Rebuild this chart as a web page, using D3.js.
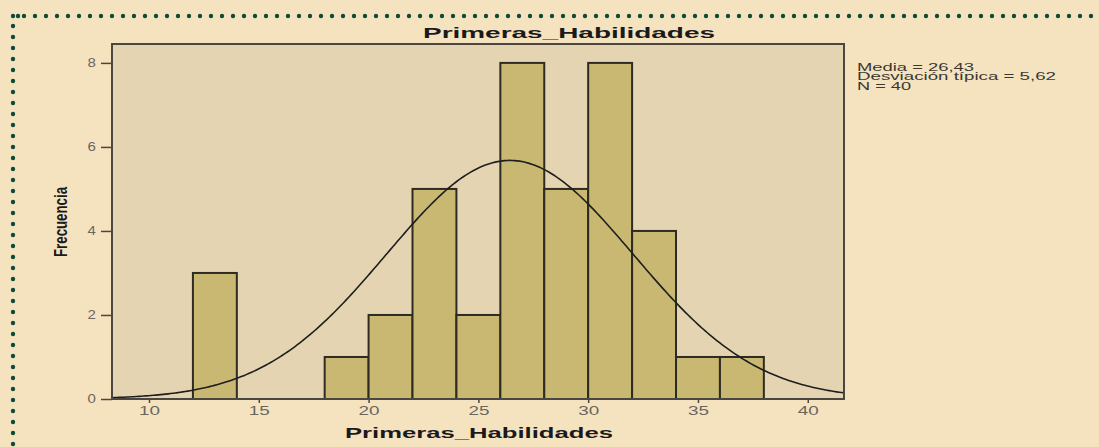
<!DOCTYPE html>
<html>
<head>
<meta charset="utf-8">
<script src="https://cdn.jsdelivr.net/npm/d3@7"></script>
<style>
  body { margin: 0; background: #f5e3c0; }
  svg { display: block; }
</style>
</head>
<body>
<div id="chart"></div>
<script>
// histogram bins (lower edge, upper edge, count)
const binStart = [12, 18, 20, 22, 24, 26, 28, 30, 32, 34, 36];
const binEnd   = [14, 20, 22, 24, 26, 28, 30, 32, 34, 36, 38];
const counts   = [3, 1, 2, 5, 2, 8, 5, 8, 4, 1, 1];

const xTicks = [10, 15, 20, 25, 30, 35, 40];
const yTicks = [0, 2, 4, 6, 8];

const media = 26.43;
const desviacion = 5.62;
const n = 40;
const statLines = ["Media = 26,43", "Desviación típica = 5,62", "N = 40"];

const width = 1099, height = 447;
const plot = { left: 112, right: 844, top: 44, bottom: 399 };

const svg = d3.select("#chart").append("svg")
  .attr("width", width)
  .attr("height", height);

svg.append("rect")
  .attr("width", width).attr("height", height)
  .attr("fill", "#f5e3c0");

// dotted frame
const dotColor = "#0e4b37";
d3.range(13, width + 6, 11).forEach(x => {
  svg.append("circle").attr("cx", x).attr("cy", 16).attr("r", 2.2).attr("fill", dotColor);
});
svg.append("circle").attr("cx", 18).attr("cy", 16).attr("r", 2.2).attr("fill", dotColor);
d3.range(26, height + 6, 11).forEach(y => {
  svg.append("circle").attr("cx", 13).attr("cy", y).attr("r", 2.2).attr("fill", dotColor);
});

const x = d3.scaleLinear().domain([8.315, 41.65]).range([plot.left, plot.right]);
const y = d3.scaleLinear().domain([0, 8.45]).range([plot.bottom, plot.top]);

// plot area
svg.append("rect")
  .attr("x", plot.left).attr("y", plot.top)
  .attr("width", plot.right - plot.left)
  .attr("height", plot.bottom - plot.top)
  .attr("fill", "#e5d4b1");

// bars
svg.append("g")
  .selectAll("rect")
  .data(counts)
  .join("rect")
  .attr("x", (d, i) => x(binStart[i]))
  .attr("y", d => y(d))
  .attr("width", (d, i) => x(binEnd[i]) - x(binStart[i]))
  .attr("height", d => y(0) - y(d))
  .attr("fill", "#c9b872")
  .attr("stroke", "#2e2b22")
  .attr("stroke-width", 2);

// normal curve from the reported mean / sd
const binW = 2;
const pts = d3.range(0, 301).map(k => {
  const v = 8.315 + (41.65 - 8.315) * k / 300;
  const z = (v - media) / desviacion;
  return [v, n * binW * Math.exp(-0.5 * z * z) / (desviacion * Math.sqrt(2 * Math.PI))];
});
svg.append("path")
  .datum(pts)
  .attr("fill", "none")
  .attr("stroke", "#1e1e1e")
  .attr("stroke-width", 1.6)
  .attr("d", d3.line().x(d => x(d[0])).y(d => y(d[1])));

// frame
svg.append("rect")
  .attr("x", plot.left).attr("y", plot.top)
  .attr("width", plot.right - plot.left)
  .attr("height", plot.bottom - plot.top)
  .attr("fill", "none")
  .attr("stroke", "#4a4740")
  .attr("stroke-width", 2);

// y axis
const yAxis = svg.append("g")
  .attr("transform", `translate(${plot.left},0)`)
  .call(d3.axisLeft(y).tickValues(yTicks).tickSize(11).tickPadding(4).tickFormat(d3.format("d")));
yAxis.select(".domain").remove();
yAxis.selectAll("line").attr("stroke", "#4a4740").attr("stroke-width", 1.5);
yAxis.selectAll("text")
  .attr("fill", "#6a665e")
  .attr("font-family", "Arial, 'Liberation Sans', sans-serif")
  .attr("font-size", 12)
  .attr("transform", "scale(1.25,1)")
  .attr("x", -13);

// x axis
const xAxis = svg.append("g")
  .attr("transform", `translate(0,${plot.bottom})`)
  .call(d3.axisBottom(x).tickValues(xTicks).tickSize(4).tickPadding(3).tickFormat(d3.format("d")));
xAxis.select(".domain").remove();
xAxis.selectAll("line").attr("stroke", "#4a4740").attr("stroke-width", 1.5);
xAxis.selectAll("text")
  .attr("fill", "#6a665e")
  .attr("font-family", "Arial, 'Liberation Sans', sans-serif")
  .attr("font-size", 12)
  .attr("textLength", 21)
  .attr("lengthAdjust", "spacingAndGlyphs");

// title
svg.append("text")
  .attr("x", 569).attr("y", 38)
  .attr("text-anchor", "middle")
  .attr("font-family", "Arial, 'Liberation Sans', sans-serif")
  .attr("font-weight", "bold")
  .attr("font-size", 15)
  .attr("fill", "#1a1a1a")
  .attr("textLength", 292)
  .attr("lengthAdjust", "spacingAndGlyphs")
  .text("Primeras_Habilidades");

// x label
svg.append("text")
  .attr("x", 479).attr("y", 438)
  .attr("text-anchor", "middle")
  .attr("font-family", "Arial, 'Liberation Sans', sans-serif")
  .attr("font-weight", "bold")
  .attr("font-size", 15)
  .attr("fill", "#1a1a1a")
  .attr("textLength", 268)
  .attr("lengthAdjust", "spacingAndGlyphs")
  .text("Primeras_Habilidades");

// y label
svg.append("text")
  .attr("transform", "translate(67,222) rotate(-90)")
  .attr("text-anchor", "middle")
  .attr("font-family", "'Liberation Sans Narrow', 'Arial Narrow', Arial, sans-serif")
  .attr("font-weight", "bold")
  .attr("font-size", 19)
  .attr("fill", "#1a1a1a")
  .attr("textLength", 70)
  .attr("lengthAdjust", "spacingAndGlyphs")
  .text("Frecuencia");

// stats
const statLen = [117, 199, 54];
svg.append("g")
  .selectAll("text")
  .data(statLines)
  .join("text")
  .attr("x", 857)
  .attr("y", (d, i) => 70.5 + i * 9.6)
  .attr("font-family", "Arial, 'Liberation Sans', sans-serif")
  .attr("font-size", 10)
  .attr("fill", "#3a3833")
  .attr("textLength", (d, i) => statLen[i])
  .attr("lengthAdjust", "spacingAndGlyphs")
  .text(d => d);
</script>
</body>
</html>
